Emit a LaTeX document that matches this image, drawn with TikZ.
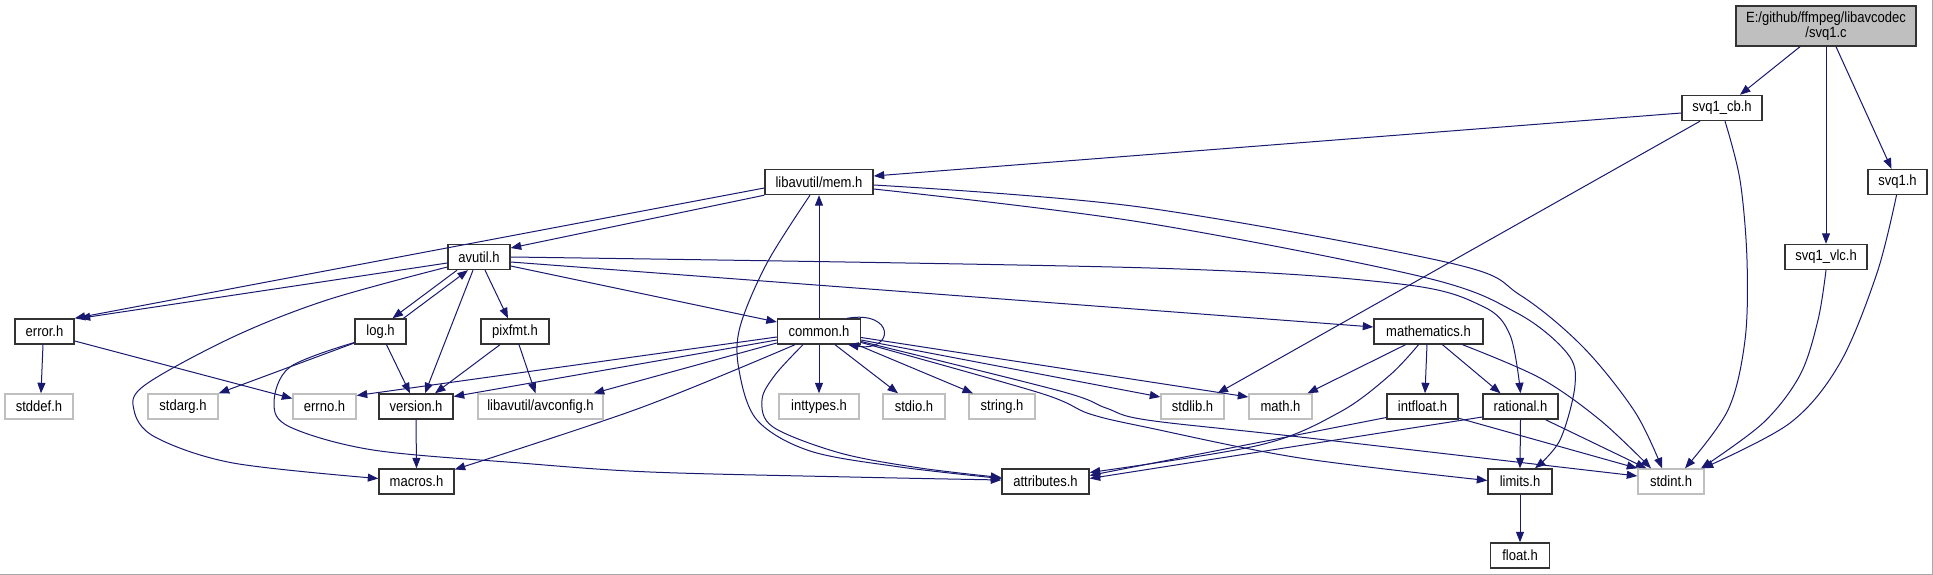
\documentclass[tikz,border=0pt]{standalone}
\usepackage{fontspec}
\setmainfont[FakeStretch=0.88]{Liberation Sans}
\usetikzlibrary{arrows.meta}
\definecolor{edgecol}{HTML}{191970}
\definecolor{greybd}{HTML}{BFBFBF}
\definecolor{framecol}{HTML}{A8A8A8}
\definecolor{boxbd}{HTML}{333333}
\begin{document}
\begin{tikzpicture}[x=1pt,y=-1pt,
  box/.style={draw=boxbd, line width=1.4pt, fill=white, minimum height=25pt, inner sep=0pt,
    font=\fontsize{14.8}{16}\selectfont, text=black},
  sys/.style={box, draw=greybd},
  dep/.style={draw=edgecol, line width=1pt, -{Triangle[length=10.5pt,width=8pt]}},
  sm/.style={smooth, tension=0.55}]
\useasboundingbox (0,0) rectangle (1933,575);
\fill[white] (0,0) rectangle (1933,575);
\draw[draw=framecol, line width=1pt] (0,574.5) -- (1932.5,574.5) -- (1932.5,0);

% nodes
\node[box, fill=greybd, minimum width=180, minimum height=40, align=center] (svq1c) at (1826,26) {E:/github/ffmpeg/libavcodec\\[-1pt]/svq1.c};
\node[box, minimum width=80] (svq1cb) at (1722,108) {svq1\_cb.h};
\node[box, minimum width=59] (svq1h) at (1897.5,182) {svq1.h};
\node[box, minimum width=82] (svq1vlc) at (1826,257) {svq1\_vlc.h};
\node[box, minimum width=108] (mem) at (819,182) {libavutil/mem.h};
\node[box, minimum width=62] (avutil) at (479,257) {avutil.h};
\node[box, minimum width=59] (error) at (44.5,331.5) {error.h};
\node[box, minimum width=51] (log) at (380.5,331.5) {log.h};
\node[box, minimum width=68] (pixfmt) at (515,331.5) {pixfmt.h};
\node[box, minimum width=83] (common) at (819,331.5) {common.h};
\node[box, minimum width=109] (mathematics) at (1428.5,331.5) {mathematics.h};
\node[sys, minimum width=68] (stddef) at (39,406.5) {stddef.h};
\node[sys, minimum width=70] (stdarg) at (183,406.5) {stdarg.h};
\node[sys, minimum width=63] (errno) at (324.5,406.5) {errno.h};
\node[box, minimum width=74] (version) at (416,406.5) {version.h};
\node[sys, minimum width=125] (avconfig) at (540.5,406.5) {libavutil/avconfig.h};
\node[sys, minimum width=80] (inttypes) at (819,406.5) {inttypes.h};
\node[sys, minimum width=62] (stdio) at (914,406.5) {stdio.h};
\node[sys, minimum width=66] (string) at (1002,406.5) {string.h};
\node[sys, minimum width=63] (stdlib) at (1192.5,406.5) {stdlib.h};
\node[sys, minimum width=63] (math) at (1280.5,406.5) {math.h};
\node[box, minimum width=71] (intfloat) at (1422.5,406.5) {intfloat.h};
\node[box, minimum width=75] (rational) at (1520.5,406.5) {rational.h};
\node[box, minimum width=75] (macros) at (416.5,481.5) {macros.h};
\node[box, minimum width=87] (attributes) at (1045.5,481.5) {attributes.h};
\node[box, minimum width=64] (limits) at (1520,481.5) {limits.h};
\node[sys, minimum width=66] (stdint) at (1671,481.5) {stdint.h};
\node[box, minimum width=59] (float) at (1520,555.5) {float.h};

% edges from svq1.c
\draw[dep] ([xshift=-26]svq1c.south) -- ([xshift=18]svq1cb.north);
\draw[dep] (svq1c.south) -- (svq1vlc.north);
\draw[dep] ([xshift=10]svq1c.south) -- ([xshift=-6]svq1h.north);
% svq1_cb.h
\draw[dep] ([yshift=-5]svq1cb.west) -- ([yshift=6]mem.east);
\draw[dep] ([xshift=-22]svq1cb.south) -- ([xshift=25]stdlib.north);
\draw[dep] plot[sm] coordinates {([xshift=3]svq1cb.south) (1740,180) (1747,260) (1745,340) (1728,410) ([xshift=14]stdint.north)};
% svq1_vlc.h, svq1.h
\draw[dep] plot[sm] coordinates {(svq1vlc.south) (1818,320) (1800,375) (1763,423) ([xshift=30]stdint.north)};
\draw[dep] plot[sm] coordinates {([xshift=-1]svq1h.south) (1877,273) (1840,363) (1790,423) ([xshift=-2]stdint.north east)};
% mem.h
\draw[dep] (mem.south west) -- ([yshift=9]avutil.east);
\draw[dep] ([yshift=-6]mem.west) -- (error.north east);
\draw[dep] plot[sm] coordinates {([xshift=-9]mem.south) (767,263) (740,327) (739,370) (757,420) (810,451) (900,467) ([yshift=3]attributes.west)};
\draw[dep] plot[sm] coordinates {([yshift=-3]mem.east) (1140,207) (1450,263) (1520,295) (1583,347) (1635,412) ([xshift=-9]stdint.north)};
\draw[dep] plot[sm] coordinates {([yshift=-7]mem.east) (1140,222) (1423,277) (1517,313) (1567,353) (1575,385) (1560,440) ([xshift=15]limits.north)};
% common.h -> mem.h
\draw[dep] (common.north) -- (mem.south);
% avutil.h
\draw[dep] ([yshift=-6]avutil.west) -- ([xshift=5]error.north east);
\draw[dep] ([xshift=-22]avutil.south) -- ([xshift=12]log.north);
\draw[dep] ([xshift=23]log.north) -- ([xshift=-11]avutil.south);
\draw[dep] ([xshift=-6]avutil.south) -- ([xshift=9]version.north);
\draw[dep] ([xshift=6]avutil.south) -- ([xshift=-7]pixfmt.north);
\draw[dep] plot[sm] coordinates {([yshift=-10]avutil.west) (327,300) (233,337) (145,385) (134,410) (155,437) (233,463) ([yshift=3]macros.west)};
\draw[dep] ([yshift=-9]avutil.east) -- ([yshift=9.5]common.west);
\draw[dep] ([yshift=-5]avutil.east) -- ([yshift=4.5]mathematics.west);
\draw[dep] plot[sm] coordinates {(avutil.east) (1150,268) (1400,284) (1482,306) (1510,335) (rational.north)};
% error.h
\draw[dep] ([xshift=-1.5]error.south) -- ([xshift=2]stddef.north);
\draw[dep] ([yshift=-9.5]error.east) -- ([yshift=8]errno.west);
% log.h
\draw[dep] ([yshift=-11.5]log.west) -- (stdarg.north east);
\draw[dep] ([xshift=6]log.south) -- ([xshift=-6]version.north);
\draw[dep] plot[sm] coordinates {([yshift=-11]log.west) (290,367) (274,403) (290,427) (373,450) (520,463) (650,472) (850,477) ([yshift=1.5]attributes.west)};
% pixfmt.h, version.h
\draw[dep] ([xshift=-15]pixfmt.south) -- ([xshift=19]version.north);
\draw[dep] ([xshift=4]pixfmt.south) -- ([xshift=-5]avconfig.north);
\draw[dep] (version.south) -- (macros.north);
% common.h
\draw[dep] ([xshift=28]common.north) .. controls (895,310) and (895,352) .. ([xshift=29]common.south);
\draw[dep] ([yshift=-5.5]common.west) -- ([yshift=11]errno.east);
\draw[dep] ([yshift=-8.5]common.west) -- ([yshift=10]version.east);
\draw[dep] ([yshift=-11.5]common.west) -- ([xshift=-10]avconfig.north east);
\draw[dep] plot[sm] coordinates {([xshift=-24]common.south) (640,408) ([yshift=12]macros.east)};
\draw[dep] plot[sm] coordinates {([xshift=-16]common.south) (775,375) (762,400) (773,427) (840,453) (920,468) ([yshift=4]attributes.west)};
\draw[dep] (common.south) -- (inttypes.north);
\draw[dep] ([xshift=16]common.south) -- ([xshift=-16]stdio.north);
\draw[dep] ([xshift=38]common.south) -- ([xshift=-29]string.north);
\draw[dep] ([yshift=-8.5]common.east) -- ([yshift=9.5]stdlib.west);
\draw[dep] ([yshift=-6]common.east) -- ([yshift=9.5]math.west);
\draw[dep] plot[sm] coordinates {([yshift=-11]common.east) (1040,393) (1090,414) (1150,428) (1300,458) ([yshift=1]limits.west)};
\draw[dep] plot[sm] coordinates {([yshift=-10]common.east) (1060,391) (1106,408) (1147,420) (1300,437) ([yshift=5.5]stdint.west)};
% mathematics.h
\draw[dep] ([xshift=-23]mathematics.south) -- ([xshift=27]math.north);
\draw[dep] plot[sm] coordinates {([xshift=-10]mathematics.south) (1390,375) (1340,412) (1260,445) ([yshift=9]attributes.east)};
\draw[dep] ([xshift=-1.5]mathematics.south) -- ([xshift=2.5]intfloat.north);
\draw[dep] ([xshift=14]mathematics.south) -- ([xshift=-20]rational.north);
\draw[dep] plot[sm] coordinates {([xshift=34]mathematics.south) (1540,378) (1600,420) ([xshift=-20]stdint.north)};
% intfloat.h, rational.h, limits.h
\draw[dep] ([yshift=-11]intfloat.west) -- ([yshift=6]attributes.east);
\draw[dep] ([yshift=1.5]intfloat.south east) -- (stdint.north west);
\draw[dep] (rational.south) -- (limits.north);
\draw[dep] ([xshift=25]rational.south) -- ([xshift=9]stdint.north west);
\draw[dep] ([yshift=-10.5]rational.west) -- ([yshift=3]attributes.east);
\draw[dep] (limits.south) -- (float.north);
\end{tikzpicture}
\end{document}
